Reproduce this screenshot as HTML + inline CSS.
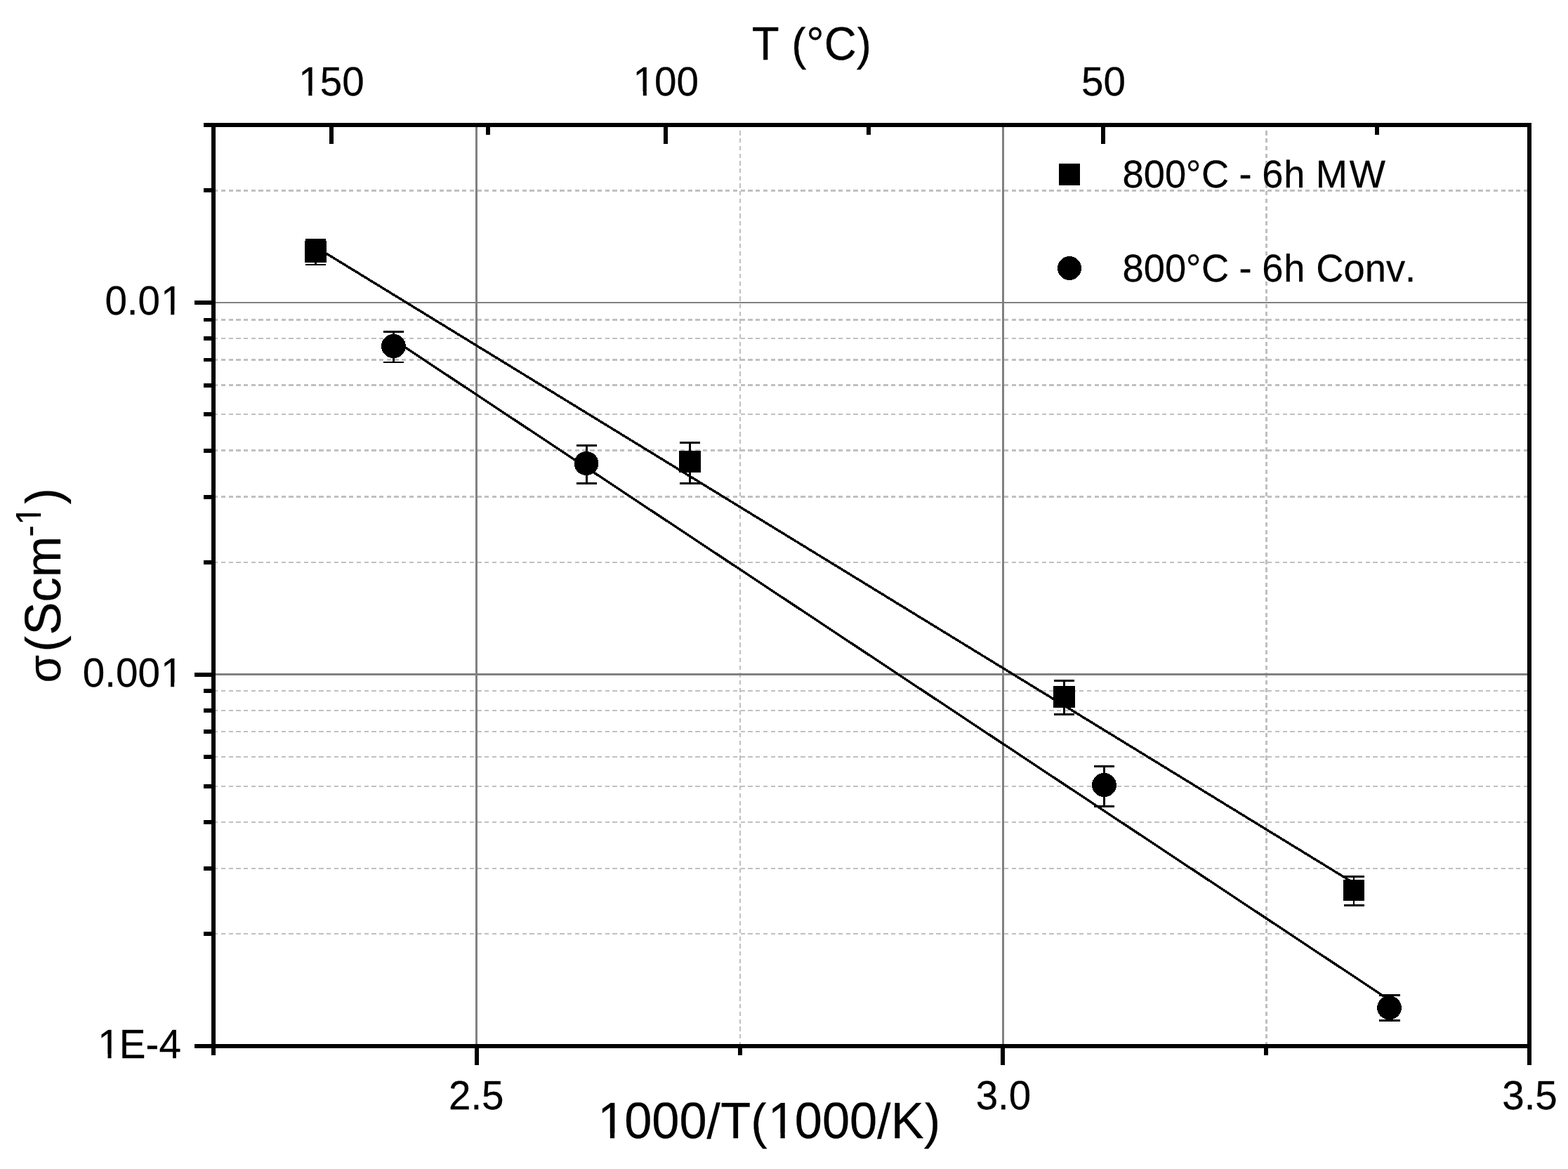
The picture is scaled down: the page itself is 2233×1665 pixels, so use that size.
<!DOCTYPE html>
<html lang="en">
<head>
<meta charset="utf-8">
<title>Conductivity Arrhenius plot</title>
<style>
html, body { margin: 0; padding: 0; background: #fff; }
body { width: 2233px; height: 1665px; }
svg { display: block; }
</style>
</head>
<body>
<svg width="2233" height="1665" viewBox="0 0 2233 1665">
<rect x="0" y="0" width="2233" height="1665" fill="#fff"/>
<defs><clipPath id="trim1"><path clip-rule="evenodd" d="M-20 -39.69H114.4V22.6H-20ZM3.73 -5.53H15.20V1.66H3.73ZM20.20 -5.53H31.37V1.66H20.20Z"/></clipPath><clipPath id="trim2"><path clip-rule="evenodd" d="M-20 -39.69H114.4V22.6H-20ZM3.73 -5.53H15.20V1.66H3.73ZM20.20 -5.53H31.37V1.66H20.20Z"/></clipPath><clipPath id="trim3"><path clip-rule="evenodd" d="M-20 -39.69H83.0V22.6H-20Z"/></clipPath><clipPath id="trim4"><path clip-rule="evenodd" d="M-20 -39.69H131.1V22.6H-20ZM82.41 -5.53H93.88V1.66H82.41ZM98.88 -5.53H110.05V1.66H98.88Z"/></clipPath><clipPath id="trim5"><path clip-rule="evenodd" d="M-20 -39.69H162.6V22.6H-20ZM113.89 -5.53H125.36V1.66H113.89ZM130.36 -5.53H141.53V1.66H130.36Z"/></clipPath><clipPath id="trim6"><path clip-rule="evenodd" d="M-20 -39.69H139.6V22.6H-20ZM3.73 -5.53H15.20V1.66H3.73ZM20.20 -5.53H31.37V1.66H20.20Z"/></clipPath><clipPath id="trim7"><path clip-rule="evenodd" d="M-20 -39.69H98.7V22.6H-20Z"/></clipPath><clipPath id="trim8"><path clip-rule="evenodd" d="M-20 -39.69H98.7V22.6H-20Z"/></clipPath><clipPath id="trim9"><path clip-rule="evenodd" d="M-20 -39.69H98.7V22.6H-20Z"/></clipPath><clipPath id="trim10"><path clip-rule="evenodd" d="M-20 -44.60H190.3V25.4H-20Z"/></clipPath><clipPath id="trim11"><path clip-rule="evenodd" d="M-20 -49.35H509.1V28.2H-20ZM4.64 -6.87H18.90V2.06H4.64ZM25.12 -6.87H39.01V2.06H25.12ZM247.21 -6.87H261.47V2.06H247.21ZM267.69 -6.87H281.58V2.06H267.69Z"/></clipPath><clipPath id="trim12"><path clip-rule="evenodd" d="M-20 -38.07H394.6V21.7H-20Z"/></clipPath><clipPath id="trim13"><path clip-rule="evenodd" d="M-20 -38.07H437.7V21.7H-20Z"/></clipPath><clipPath id="trimy"><rect x="-30" y="-49.29" width="236.38" height="89.29"/><path clip-rule="evenodd" d="M206.38 -61.17H252.49V-15.02H206.38ZM225.59 -31.78H235.46V-25.59H225.59ZM239.77 -31.78H249.37V-25.59H239.77Z"/><rect x="252.49" y="-49.29" width="60" height="89.29"/></clipPath></defs>
<g id="grid-minor" shape-rendering="crispEdges" stroke="#c0c0c0" stroke-dasharray="6.3 4.422" fill="none">
<line x1="304.1" y1="271.5" x2="2175" y2="271.5" stroke-width="3"/>
<line x1="304.1" y1="455.5" x2="2175" y2="455.5" stroke-width="3"/>
<line x1="304.1" y1="482" x2="2175" y2="482" stroke-width="2"/>
<line x1="304.1" y1="512.5" x2="2175" y2="512.5" stroke-width="3"/>
<line x1="304.1" y1="548.5" x2="2175" y2="548.5" stroke-width="3"/>
<line x1="304.1" y1="590" x2="2175" y2="590" stroke-width="2"/>
<line x1="304.1" y1="641.5" x2="2175" y2="641.5" stroke-width="3"/>
<line x1="304.1" y1="707.5" x2="2175" y2="707.5" stroke-width="3"/>
<line x1="304.1" y1="801" x2="2175" y2="801" stroke-width="2"/>
<line x1="304.1" y1="984" x2="2175" y2="984" stroke-width="2"/>
<line x1="304.1" y1="1012" x2="2175" y2="1012" stroke-width="2"/>
<line x1="304.1" y1="1042" x2="2175" y2="1042" stroke-width="2"/>
<line x1="304.1" y1="1078" x2="2175" y2="1078" stroke-width="2"/>
<line x1="304.1" y1="1120" x2="2175" y2="1120" stroke-width="2"/>
<line x1="304.1" y1="1171" x2="2175" y2="1171" stroke-width="2"/>
<line x1="304.1" y1="1237" x2="2175" y2="1237" stroke-width="2"/>
<line x1="304.1" y1="1330" x2="2175" y2="1330" stroke-width="2"/>
<line x1="1054" y1="1490" x2="1054" y2="183" stroke-width="2"/>
<line x1="1803.5" y1="1490" x2="1803.5" y2="183" stroke-width="3"/>
</g>
<g id="grid-major" shape-rendering="crispEdges" fill="#808080">
<rect x="677" y="181" width="3" height="1306"/>
<rect x="1427" y="181" width="3" height="1306"/>
<rect x="307" y="430" width="1868" height="2"/>
<rect x="307" y="959" width="1868" height="3"/>
</g>
<g id="fits" shape-rendering="crispEdges" stroke="#000" stroke-width="3.4" fill="none">
<line x1="449.50" y1="351.73" x2="1928.00" y2="1257.75"/>
<line x1="560.50" y1="483.80" x2="1978.50" y2="1424.22"/>
</g>
<g id="data" shape-rendering="crispEdges" fill="#000">
<rect x="435" y="340" width="29" height="3"/>
<rect x="435" y="376" width="29" height="2"/>
<rect x="448" y="340" width="3" height="38"/>
<rect x="968" y="629" width="29" height="3"/>
<rect x="968" y="687" width="29" height="3"/>
<rect x="981" y="629" width="3" height="61"/>
<rect x="1501" y="968" width="29" height="3"/>
<rect x="1501" y="1016" width="29" height="3"/>
<rect x="1514" y="968" width="3" height="51"/>
<rect x="1914" y="1247" width="29" height="3"/>
<rect x="1914" y="1288" width="29" height="3"/>
<rect x="1927" y="1247" width="2" height="44"/>
<rect x="546" y="471" width="29" height="3"/>
<rect x="546" y="515" width="29" height="2"/>
<rect x="559" y="471" width="3" height="46"/>
<rect x="821" y="633" width="29" height="3"/>
<rect x="821" y="687" width="29" height="3"/>
<rect x="834" y="633" width="3" height="57"/>
<rect x="1558" y="1090" width="29" height="3"/>
<rect x="1558" y="1147" width="29" height="3"/>
<rect x="1571" y="1090" width="3" height="60"/>
<rect x="1964" y="1416" width="30" height="3"/>
<rect x="1964" y="1452" width="30" height="3"/>
<rect x="1977" y="1416" width="3" height="39"/>
<rect x="434" y="343" width="31" height="31"/>
<rect x="967" y="642" width="31" height="31"/>
<rect x="1500" y="977" width="31" height="31"/>
<rect x="1913" y="1253" width="30" height="30"/>
<ellipse cx="560.5" cy="493" rx="17.4" ry="17.1"/>
<ellipse cx="835" cy="660" rx="17.4" ry="17.1"/>
<ellipse cx="1572.5" cy="1118.1" rx="17.4" ry="17.1"/>
<ellipse cx="1978.5" cy="1435.3" rx="17.4" ry="17.1"/>
</g>
<g id="axes" shape-rendering="crispEdges" fill="#000">
<rect x="301" y="175" width="6" height="1328"/>
<rect x="2175" y="175" width="6" height="1342"/>
<rect x="290" y="175" width="1891" height="6"/>
<rect x="277" y="1487" width="1904" height="6"/>
<rect x="277" y="428" width="24" height="6"/>
<rect x="277" y="958" width="24" height="6"/>
<rect x="290" y="268" width="11" height="6"/>
<rect x="290" y="453" width="11" height="5"/>
<rect x="290" y="479" width="11" height="6"/>
<rect x="290" y="510" width="11" height="5"/>
<rect x="290" y="546" width="11" height="6"/>
<rect x="290" y="587" width="11" height="6"/>
<rect x="290" y="639" width="11" height="6"/>
<rect x="290" y="705" width="11" height="6"/>
<rect x="290" y="798" width="11" height="6"/>
<rect x="290" y="981" width="11" height="6"/>
<rect x="290" y="1009" width="11" height="6"/>
<rect x="290" y="1039" width="11" height="6"/>
<rect x="290" y="1075" width="11" height="6"/>
<rect x="290" y="1117" width="11" height="6"/>
<rect x="290" y="1168" width="11" height="6"/>
<rect x="290" y="1234" width="11" height="6"/>
<rect x="290" y="1327" width="11" height="6"/>
<rect x="469" y="181" width="6" height="24"/>
<rect x="692" y="181" width="6" height="11"/>
<rect x="945" y="181" width="6" height="24"/>
<rect x="1234" y="181" width="6" height="11"/>
<rect x="1568" y="181" width="6" height="24"/>
<rect x="1958" y="181" width="6" height="11"/>
<rect x="676" y="1493" width="6" height="24"/>
<rect x="1051" y="1493" width="6" height="10"/>
<rect x="1425" y="1493" width="6" height="24"/>
<rect x="1800" y="1493" width="6" height="10"/>
</g>
<g id="labels" font-family="'Liberation Sans', sans-serif" fill="#000" stroke="#000" stroke-width="0.25" stroke-linejoin="round" style="font-kerning:none">
<text transform="translate(424.23 135.875) scale(1.0000 1.0208)" font-size="56.60" x="0.97 31.48 62.96" clip-path="url(#trim1)">150</text>
<text transform="translate(900.63 135.875) scale(1.0000 1.0208)" font-size="56.60" x="0.97 31.48 62.96" clip-path="url(#trim2)">100</text>
<text transform="translate(1540.04 135.875) scale(1.0000 1.0208)" font-size="56.60" clip-path="url(#trim3)">50</text>
<text transform="translate(149.38 447.875) scale(1.0000 1.0208)" font-size="56.60" x="0 31.48 47.2 79.65" clip-path="url(#trim4)">0.01</text>
<text transform="translate(117.79 977.875) scale(1.0000 1.0208)" font-size="56.60" x="0 31.48 47.2 78.68 111.13" clip-path="url(#trim5)">0.001</text>
<text transform="translate(138.35 1506.88) scale(1.0000 1.0208)" font-size="56.60" x="0.97 31.48 69.23 88.08" clip-path="url(#trim6)">1E-4</text>
<text transform="translate(638.92 1579.88) scale(1.0000 1.0208)" font-size="56.60" clip-path="url(#trim7)">2.5</text>
<text transform="translate(1389.64 1579.88) scale(1.0000 1.0208)" font-size="56.60" clip-path="url(#trim8)">3.0</text>
<text transform="translate(2139.17 1579.88) scale(1.0000 1.0208)" font-size="56.60" clip-path="url(#trim9)">3.5</text>
<text transform="translate(1070.67 84.875) scale(1.0000 1.0431)" font-size="63.61" clip-path="url(#trim10)">T (°C)</text>
<text transform="translate(850.03 1620.88) scale(1.0000 1.0274)" font-size="70.39" x="1.2 39.14 78.29 117.43 156.58 176.13 219.13 243.77 281.71 320.86 360 399.15 418.7 465.65" clip-path="url(#trim11)">1000/T(1000/K)</text>
<text transform="translate(1598.54 266.8) scale(1.0000 1.0346)" font-size="54.30" x="0 30.2 60.4 90.13 112.45 151.67 165.92 184 198.7 229.79 259.99 275.11 323.31" clip-path="url(#trim12)">800°C - 6h MW</text>
<text transform="translate(1598.54 400.8) scale(1.0000 1.0373)" font-size="54.30" x="0 30.2 60.4 90.13 112.45 151.67 165.92 184 198.7 229.79 259.99 275.8 315.02 345.22 375.41 402.56" clip-path="url(#trim13)">800°C - 6h Conv.</text>
</g>
<text id="ytitle" transform="translate(86.2 971) rotate(-90) scale(1 1.04)" font-family="'Liberation Sans', sans-serif" font-size="70.3" fill="#000" stroke="#000" stroke-width="0.25" style="font-kerning:none" clip-path="url(#trimy)"><tspan x="-1.60" y="0" font-size="64.0">σ</tspan><tspan x="42.57 66.60 113.49 148.64" y="0">(Scm</tspan><tspan x="206.38 223.22" y="-27.02" font-size="48.7">-1</tspan><tspan x="252.49" y="0">)</tspan></text>
<g id="legend-symbols" shape-rendering="crispEdges" fill="#000">
<rect x="1508" y="233" width="30" height="31"/>
<ellipse cx="1523" cy="382" rx="17" ry="17"/>
</g>

</svg>
</body>
</html>
